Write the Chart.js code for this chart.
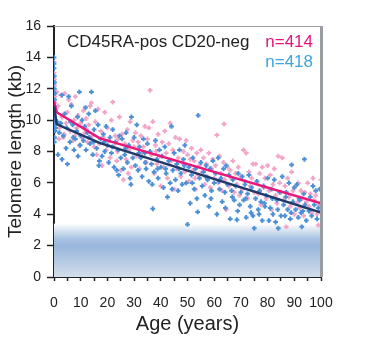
<!DOCTYPE html>
<html>
<head>
<meta charset="utf-8">
<script src="https://cdn.jsdelivr.net/npm/chart.js@4"></script>
<style>
  html, body { margin: 0; padding: 0; background: #fff; }
  #wrap { position: relative; width: 371px; height: 359px; }
</style>
</head>
<body>
<div id="wrap"><canvas id="telChart"></canvas></div>
<script>
// ages (years) and telomere length (kb)
var bluePts = [
  [0,14.0],[0,13.6],[0,13.3],[0.1,12.8],[0.2,12.4],[0.1,12.0],[0.3,11.7],[0.2,11.3],[0.1,10.9],[0.4,10.6],[0.2,10.2],[0.3,9.9],[0.1,9.6],[0.4,9.3],[0.2,8.9],[0.1,8.6],[0.5,10.0],[0.6,9.5],
  [1.5,7.8],[2.5,9.8],[3,7.5],[3.5,9.0],[4,10.4],[4.5,8.2],[5,7.2],[5.5,11.5],[2,9.2],[3,11.6],[4.8,9.5],[1.2,9.9],
  [6,8.6],[6.5,10.9],[7,9.7],[7.5,8.1],[8,8.8],[8.5,9.3],[9,7.7],[9.5,11.8],[10,9.0],[6.2,9.9],[8.8,10.2],[7.2,8.9],[9.8,8.4],
  [10.5,10.0],[11,8.7],[11.5,9.6],[12,8.1],[12.5,9.2],[13,10.4],[13.5,8.5],[14,11.8],[14.5,7.8],[15,9.4],[11.8,10.8],[13.2,8.9],[14.8,8.6],
  [15.5,10.6],[16,8.2],[16.5,9.7],[17,7.4],[17.5,8.8],[18,7.7],[18.5,9.1],[19,8.0],[19.5,9.6],[20,8.4],[16.8,7.1],[18.8,8.6],
  [20.5,7.3],[21,8.9],[21.5,7.9],[22,9.4],[22.5,7.0],[23,8.6],[23.5,6.8],[24,8.1],[24.5,9.0],[25,7.6],[21.8,8.3],[24.2,6.5],
  [25.5,8.8],[26,6.9],[26.5,7.8],[27,9.2],[27.5,7.3],[28,8.4],[28.5,6.3],[29,10.2],[29.5,7.6],[30,8.9],[28.8,5.9],[26.8,8.2],
  [30.5,7.1],[31,9.7],[31.5,6.8],[32,8.3],[32.5,7.6],[33,6.4],[33.5,8.8],[34,7.9],[34.5,6.9],[35,8.5],[31.8,7.9],[34.2,7.3],
  [35.5,6.1],[36,8.0],[36.5,7.2],[37,4.35],[37.5,6.7],[38,8.7],[38.5,7.5],[39,6.3],[39.5,8.1],[40,7.0],[36.8,5.9],[38.8,6.9],
  [40.5,7.7],[41,5.7],[41.5,8.3],[42,6.6],[42.5,5.1],[43,7.4],[43.5,6.0],[44,9.6],[44.5,6.8],[45,7.9],[41.8,6.9],[44.2,5.6],
  [45.5,6.2],[46,7.2],[46.5,5.5],[47,8.1],[47.5,6.6],[48,5.9],[48.5,7.5],[49,8.4],[49.5,6.0],[50,3.35],[46.8,6.9],[48.8,7.1],
  [50.5,7.0],[51,4.7],[51.5,6.5],[52,7.6],[52.5,5.6],[53,6.9],[53.5,5.0],[54,10.3],[54.5,6.3],[55,7.3],[51.8,6.0],[53.8,4.15],
  [55.5,5.8],[56,6.7],[56.5,5.2],[57,7.1],[57.5,6.2],[58,4.5],[58.5,6.9],[59,5.5],[59.5,7.4],[60,6.0],[56.8,6.4],[58.8,5.0],
  [60.5,6.6],[61,4.0],[61.5,7.6],[62,5.6],[62.5,6.3],[63,4.8],[63.5,6.9],[64,5.4],[64.5,7.1],[65,5.9],[61.8,6.1],[64.2,4.4],
  [65.5,6.5],[66,3.7],[66.5,5.5],[67,6.2],[67.5,4.9],[68,5.8],[68.5,3.65],[69,6.6],[69.5,4.6],[70,5.4],[66.8,5.1],[68.8,4.2],
  [70.5,6.4],[71,4.9],[71.5,5.9],[72,3.8],[72.5,5.3],[73,6.5],[73.5,4.5],[74,5.7],[74.5,3.9],[75,3.1],[71.8,5.0],[73.8,4.1],
  [75.5,5.0],[76,6.1],[76.5,4.3],[77,5.5],[77.5,4.8],[78,3.6],[78.5,5.8],[79,4.5],[79.5,5.2],[80,6.3],[76.8,4.0],[78.8,4.7],
  [80.5,3.6],[81,4.4],[81.5,5.6],[82,4.0],[82.5,6.2],[83,3.5],[83.5,4.9],[84,3.1],[84.5,5.4],[85,3.9],[81.8,5.0],[83.8,4.3],
  [85.5,6.4],[86,4.6],[86.5,3.9],[87,5.4],[87.5,4.3],[88,6.0],[88.5,3.7],[89,7.15],[89.5,4.8],[90,5.7],[86.8,5.1],[88.8,4.1],
  [90.5,4.3],[91,5.9],[91.5,3.8],[92,4.9],[92.5,4.1],[92.8,3.2],[93.5,5.3],[93.8,7.5],[94,4.6],[94.5,3.6],[91.8,5.0],[93.2,4.2],
  [95.5,4.2],[96,5.1],[96.5,3.9],[97,5.8],[97.5,4.6],[98,5.5],[98.5,3.7],[99,4.4],[99.5,5.6],[100,4.2]
];

var pinkPts = [
  [0,13.7],[0,13.0],[0.1,12.6],[0.2,12.2],[0.1,11.9],[0.3,11.5],[0.2,11.1],[0.4,10.7],[0.1,10.3],[0.3,9.8],
  [1,11.8],[1.5,10.9],[2,9.5],[2.5,11.6],[3,10.2],[3.5,8.9],[4,11.7],[4.5,9.8],[5,10.5],[1.8,8.8],[3.8,9.1],
  [5.5,11.3],[6,9.3],[6.5,11.0],[7,8.7],[7.5,10.0],[8,11.5],[8.5,9.5],[9,10.3],[9.5,8.4],[10,9.8],[7.8,9.0],
  [10.5,8.9],[11,10.6],[11.5,9.2],[12,10.1],[12.5,8.6],[13,9.7],[13.5,10.9],[14,11.1],[14.5,9.0],[15,8.3],[12.2,9.4],
  [15.5,9.9],[16,7.8],[16.5,10.7],[17,8.5],[17.5,9.3],[18,7.1],[18.5,8.9],[19,10.5],[19.5,8.1],[20,9.5],
  [20.5,8.7],[21,7.6],[21.5,10.0],[22,11.15],[22.5,8.3],[23,9.0],[23.5,7.4],[24,8.8],[24.5,10.2],[25,6.8],[23.8,8.0],
  [25.5,9.1],[26,6.2],[26.5,8.5],[27,7.5],[27.5,9.4],[28,8.1],[28.5,9.9],[29,7.0],[29.5,8.7],[30,8.3],[27.8,6.6],
  [30.5,9.2],[31,7.7],[31.5,8.6],[32,6.9],[32.5,9.0],[33,7.9],[33.5,8.3],[34,9.6],[34.5,7.3],[35,8.8],
  [35.5,9.5],[36,11.9],[36.5,7.8],[37,9.9],[37.5,6.6],[38,8.4],[38.5,7.2],[39,9.1],[39.5,7.7],[40,5.8],[38.2,8.0],
  [40.5,8.6],[41,7.0],[41.5,9.3],[42,7.9],[42.5,6.3],[43,8.5],[43.5,9.8],[44,7.4],[44.5,8.1],[45,5.6],[42.8,7.2],
  [45.5,8.9],[46,6.9],[46.5,7.6],[47,8.8],[47.5,6.4],[48,7.3],[48.5,8.0],[49,6.7],[49.5,8.7],[50,7.8],
  [50.5,6.1],[51,7.5],[51.5,8.2],[52,6.8],[52.5,7.4],[53,5.6],[53.5,7.9],[54,6.5],[54.5,7.1],[55,8.1],[52.8,6.3],
  [55.5,6.7],[56,7.6],[56.5,5.9],[57,7.2],[57.5,6.4],[58,7.9],[58.5,5.7],[59,6.9],[59.5,7.5],[60,6.3],
  [60.5,7.1],[61,9.05],[61.5,6.0],[62,7.7],[62.5,6.6],[63,5.5],[63.5,7.3],[63.7,9.75],[64,6.2],[65,7.0],[64.5,4.3],
  [65.5,5.8],[66,6.8],[66.5,6.3],[67,7.4],[67.5,5.4],[68,6.6],[68.5,5.9],[69,7.0],[69.5,5.2],[70,6.4],
  [70.5,5.6],[71,8.1],[71.5,6.1],[72,7.9],[72.5,5.0],[73,6.7],[73.5,5.8],[74,6.3],[74.5,7.2],[75,5.4],
  [75.5,7.2],[76,6.0],[76.5,5.3],[77,6.6],[77.5,4.6],[78,7.0],[78.5,5.7],[79,6.3],[79.5,5.0],[80,7.1],
  [80.5,5.5],[81,6.5],[81.5,4.3],[82,5.9],[82.5,6.9],[83,5.2],[83.5,4.7],[84,7.7],[84.5,6.0],[85,5.4],
  [85.5,7.6],[86,4.9],[86.5,5.8],[87,3.2],[87.5,6.3],[88,5.1],[88.5,4.5],[89,6.7],[89.5,5.5],[90,4.0],
  [90.5,5.8],[91,4.7],[91.5,6.0],[92,4.4],[92.5,5.5],[93,5.0],[93.5,3.9],[94,5.4],[94.5,4.8],[95,6.0],
  [95.5,4.5],[96,5.3],[96.5,4.1],[97,6.3],[97.5,4.9],[98,5.2],[98.5,4.0],[99,3.3],[99.5,4.6],[100,6.2]
];

// fitted curves as drawn
var pinkFit = [[0,11.2],[1,10.5],[17,8.85],[100,4.7]];
var navyFit = [[0,10.9],[1,9.75],[17,8.55],[100,4.1]];

var xTicks = [0, 10, 20, 30, 40, 50, 60, 70, 80, 90, 100];
var yTicks = [0, 2, 4, 6, 8, 10, 12, 14, 16];
var shortBand = [0, 3.4]; // shaded "short telomere" zone

function toXY(arr) {
  return arr.map(function(p) { return { x: p[0], y: p[1] }; });
}

var FONT = "'Liberation Sans', Arial, sans-serif";

var bandPlugin = {
  id: 'band',
  beforeDatasetsDraw: function(chart) {
    var ctx = chart.ctx, a = chart.chartArea, ys = chart.scales.y;
    var top = ys.getPixelForValue(shortBand[1]);
    var bot = ys.getPixelForValue(shortBand[0]);
    var g = ctx.createLinearGradient(0, top, 0, bot);
    g.addColorStop(0, 'rgba(255,255,255,1)');
    g.addColorStop(0.28, '#a9c3e3');
    g.addColorStop(0.42, '#98b6dc');
    g.addColorStop(1, '#d3deec');
    ctx.save();
    ctx.fillStyle = g;
    ctx.fillRect(a.left, top, a.right - a.left, bot - top);
    ctx.restore();
  },
  afterDraw: function(chart) {
    var ctx = chart.ctx, a = chart.chartArea;
    ctx.save();
    ctx.strokeStyle = '#9a9da2';
    ctx.lineWidth = 1;
    ctx.beginPath();
    ctx.moveTo(a.left, a.top + 0.5);
    ctx.lineTo(a.right, a.top + 0.5);
    ctx.stroke();
    ctx.lineWidth = 3;
    ctx.beginPath();
    ctx.moveTo(a.right + 0.5, a.top);
    ctx.lineTo(a.right + 0.5, a.bottom);
    ctx.stroke();
    // in-plot labels
    ctx.font = '17px ' + FONT;
    ctx.textBaseline = 'middle';
    ctx.textAlign = 'left';
    ctx.fillStyle = '#222';
    ctx.fillText('CD45RA-pos CD20-neg', 67, 42);
    ctx.textAlign = 'right';
    ctx.fillStyle = '#e6157c';
    ctx.fillText('n=414', 313, 42);
    ctx.fillStyle = '#3aa5de';
    ctx.fillText('n=418', 313, 62);
    ctx.restore();
  }
};

document.addEventListener("DOMContentLoaded", function() {
  var ctx = document.getElementById('telChart').getContext('2d');
  new Chart(ctx, {
    type: 'scatter',
    data: {
      datasets: [{
        label: 'pink',
        data: toXY(pinkPts),
        pointStyle: 'cross',
        pointRadius: 2.4,
        pointBorderWidth: 2,
        borderColor: '#f3a5c8',
        backgroundColor: '#f3a5c8',
        order: 4
      }, {
        label: 'blue',
        data: toXY(bluePts),
        pointStyle: 'cross',
        pointRadius: 2.4,
        pointBorderWidth: 2,
        borderColor: '#4d90d6',
        backgroundColor: '#4d90d6',
        order: 3
      }, {
        label: 'pink fit',
        data: toXY(pinkFit),
        showLine: true,
        pointRadius: 0,
        borderColor: '#e8177b',
        borderWidth: 2.5,
        order: 2
      }, {
        label: 'navy fit',
        data: toXY(navyFit),
        showLine: true,
        pointRadius: 0,
        borderColor: '#1f3a6a',
        borderWidth: 2.5,
        order: 1
      }]
    },
    options: {
      responsive: true,
      maintainAspectRatio: false,
      animation: false,
      layout: { padding: { left: 0, top: 26, right: 50, bottom: 22 } },
      plugins: {
        legend: { display: false },
        tooltip: { enabled: false }
      },
      scales: {
        x: {
          type: 'linear',
          min: 0, max: 100,
          afterBuildTicks: function(s) {
            var t = [];
            for (var i = 0; i < xTicks.length; i++) {
              t.push({ value: xTicks[i] });
              if (i < xTicks.length - 1) t.push({ value: xTicks[i] + 5 });
            }
            s.ticks = t;
          },
          afterFit: function(s) { s.height = 60; },
          border: { display: true, color: '#222', width: 2 },
          grid: { drawOnChartArea: false, drawTicks: true, tickLength: 4, tickColor: '#222', tickWidth: 1.5 },
          ticks: {
            autoSkip: false, maxRotation: 0, padding: 14,
            color: '#222', font: { family: FONT, size: 14 },
            callback: function(v) { return v % 10 === 0 ? v : ''; }
          },
          title: {
            display: true, text: 'Age (years)', color: '#222',
            font: { family: FONT, size: 20 }, padding: { top: 0, bottom: 1 }
          }
        },
        y: {
          type: 'linear',
          min: 0, max: 16,
          afterBuildTicks: function(s) {
            s.ticks = yTicks.map(function(v) { return { value: v }; });
          },
          afterFit: function(s) { s.width = 54; },
          border: { display: true, color: '#222', width: 2 },
          grid: { drawOnChartArea: false, drawTicks: true, tickLength: 7, tickColor: '#222', tickWidth: 1.5 },
          ticks: { padding: 6, color: '#222', font: { family: FONT, size: 14 } },
          title: {
            display: true, text: 'Telomere length (kb)', color: '#222',
            font: { family: FONT, size: 19 }, padding: { bottom: 0, top: 4 }
          }
        }
      }
    },
    plugins: [bandPlugin]
  });
});
</script>
</body>
</html>
